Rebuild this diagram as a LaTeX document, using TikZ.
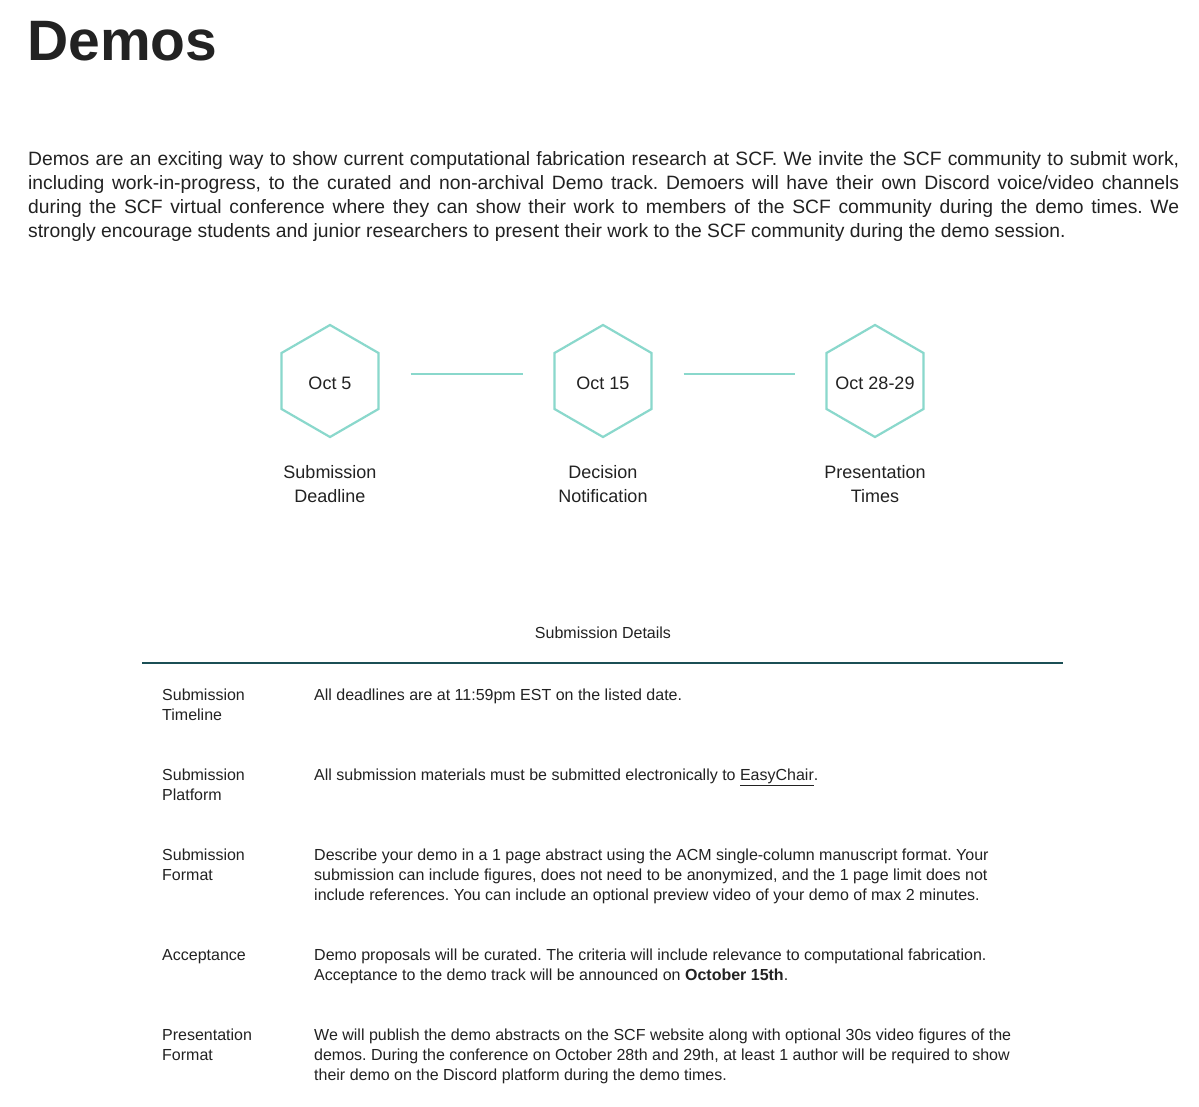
\documentclass[tikz,border=0pt]{standalone}
\usepackage{fontspec}
\setmainfont{Liberation Sans}
\frenchspacing
\definecolor{hexc}{HTML}{8AD8CC}
\definecolor{rulec}{HTML}{1B4F55}
\definecolor{txt}{HTML}{222222}
\begin{document}
\begin{tikzpicture}[x=1pt,y=-1pt,
  hexl/.style={inner sep=0pt,text=txt,font=\fontsize{18}{22}\selectfont},
  hexb/.style={draw=hexc,line width=2.2pt,line join=miter},
  conn/.style={draw=hexc,line width=2pt},
  lab/.style={align=center,text=txt,font=\fontsize{18}{24}\selectfont,anchor=north},
  cell/.style={anchor=north west,inner sep=0pt,text=txt,font=\fontsize{16}{20}\selectfont,align=left}]
\useasboundingbox (0,0) rectangle (1199,1107);
\fill[white] (0,0) rectangle (1199,1107);
\node[anchor=base west,inner sep=0pt,text=txt,font=\fontsize{57}{57}\selectfont\bfseries] (title) at (27,61) {Demos};
\node[anchor=north west,inner sep=0pt,text width=1151pt,align=justify,text=txt,font=\fontsize{19.3}{24}\selectfont] (para) at (28,151) {Demos are an exciting way to show current computational fabrication research at SCF. We invite the SCF community to submit work,\linebreak including work-in-progress, to the curated and non-archival Demo track. Demoers will have their own Discord voice/video channels\linebreak during the SCF virtual conference where they can show their work to members of the SCF community during the demo times. We\linebreak strongly encourage students and junior researchers to present their work to the SCF community during the demo session.};
\foreach \n/\cx/\t in {h1/330/Oct 5,h2/603/Oct 15,h3/875/Oct 28-29}{
  \node[hexl] (\n) at (\cx,383) {\t};
  \draw[hexb] ([shift={(0,-2)}]\n.center) ++(0,-56) -- ++(48.5,28) -- ++(0,56) -- ++(-48.5,28) -- ++(-48.5,-28) -- ++(0,-56) -- cycle;
}
\draw[conn,shorten <=32pt,shorten >=32pt] ([yshift=9pt]h1.center) ++(48.5,0) coordinate (c1) -- ([yshift=9pt,xshift=-48.5pt]h2.center);
\draw[conn,shorten <=32pt,shorten >=32pt] ([yshift=9pt,xshift=48.5pt]h2.center) -- ([yshift=9pt,xshift=-48.5pt]h3.center);
\node[lab] (l1) at (330,462) {Submission\\Deadline};
\node[lab] (l2) at (603,462) {Decision\\Notification};
\node[lab] (l3) at (875,462) {Presentation\\Times};
\node[anchor=base,inner sep=0pt,text=txt,font=\fontsize{16}{20}\selectfont] (cap) at (603,638) {Submission Details};
\coordinate (r1) at (142,663); \coordinate (r2) at (1063,663);
\draw[rulec,line width=2.5pt] (r1) -- (r2);
\node[cell] (a1) at (162,689) {Submission\\Timeline};
\node[cell] (b1) at (314,689) {All deadlines are at 11:59pm EST on the listed date.};
\node[cell] (a2) at (162,769) {Submission\\Platform};
\node[cell] (b2) at (314,769) {All submission materials must be submitted electronically to \underline{EasyChair}.};
\node[cell] (a3) at (162,849) {Submission\\Format};
\node[cell] (b3) at (314,849) {Describe your demo in a 1 page abstract using the ACM single-column manuscript format. Your\\submission can include figures, does not need to be anonymized, and the 1 page limit does not\\include references. You can include an optional preview video of your demo of max 2 minutes.};
\node[cell] (a4) at (162,949) {Acceptance};
\node[cell] (b4) at (314,949) {Demo proposals will be curated. The criteria will include relevance to computational fabrication.\\Acceptance to the demo track will be announced on \textbf{October 15th}.};
\node[cell] (a5) at (162,1029) {Presentation\\Format};
\node[cell] (b5) at (314,1029) {We will publish the demo abstracts on the SCF website along with optional 30s video figures of the\\demos. During the conference on October 28th and 29th, at least 1 author will be required to show\\their demo on the Discord platform during the demo times.};
\end{tikzpicture}
\end{document}
